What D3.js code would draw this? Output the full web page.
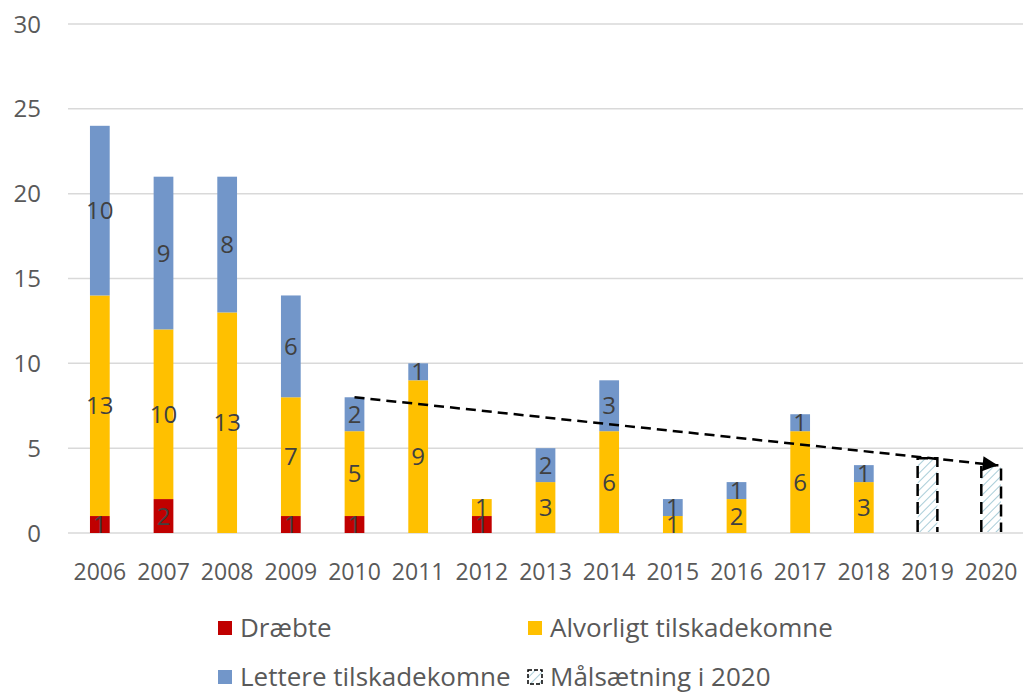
<!DOCTYPE html>
<html>
<head>
<meta charset="utf-8">
<script src="https://cdn.jsdelivr.net/npm/d3@7"></script>
<style>
  body { margin: 0; background: #fff; }
  text { font-family: "Open Sans", "Noto Sans", sans-serif; }
</style>
</head>
<body>
<div id="chart"></div>
<script>
// values
const years = ["2006", "2007", "2008", "2009", "2010", "2011", "2012", "2013", "2014", "2015", "2016", "2017", "2018", "2019", "2020"];
const draebte   = [1, 2, 0, 1, 1, 0, 1, 0, 0, 0, 0, 0, 0, 0, 0];
const alvorligt = [13, 10, 13, 7, 5, 9, 1, 3, 6, 1, 2, 6, 3, 0, 0];
const lettere   = [10, 9, 8, 6, 2, 1, 0, 2, 3, 1, 1, 1, 1, 0, 0];
const maal      = [0, 0, 0, 0, 0, 0, 0, 0, 0, 0, 0, 0, 0, 4.4, 4];
const trend = [{year: "2010", value: 8}, {year: "2020", value: 4}];
const yTicks = [0, 5, 10, 15, 20, 25, 30];

const seriesKeys = ["draebte", "alvorligt", "lettere"];
const seriesNames = {draebte: "Dræbte", alvorligt: "Alvorligt tilskadekomne", lettere: "Lettere tilskadekomne"};
const colors = {draebte: "#c00000", alvorligt: "#ffc000", lettere: "#7296c9"};

const W = 1024, H = 693;
const M = {left: 68, right: 1, top: 24};
const zeroY = 533;

const rows = years.map((y, i) => ({
  year: y, draebte: draebte[i], alvorligt: alvorligt[i], lettere: lettere[i], maal: maal[i]
}));

const svg = d3.select("#chart").append("svg")
  .attr("width", W)
  .attr("height", H);

// hatch pattern for the target bars
const defs = svg.append("defs");
const pat = defs.append("pattern")
  .attr("id", "hatch")
  .attr("width", 6)
  .attr("height", 6)
  .attr("patternUnits", "userSpaceOnUse")
  .attr("patternTransform", "rotate(45)");
pat.append("rect").attr("width", 6).attr("height", 6).attr("fill", "#fff");
pat.append("line")
  .attr("x1", 0).attr("y1", 0).attr("x2", 0).attr("y2", 6)
  .attr("stroke", "#a9cdd8")
  .attr("stroke-width", 2);

defs.append("marker")
  .attr("id", "arrow")
  .attr("viewBox", "0 0 10 10")
  .attr("refX", 9)
  .attr("refY", 5)
  .attr("markerWidth", 7.5)
  .attr("markerHeight", 6)
  .attr("markerUnits", "strokeWidth")
  .attr("orient", "auto")
  .append("path")
  .attr("d", "M0,0 L10,5 L0,10 Z")
  .attr("fill", "#000");

const x = d3.scaleBand()
  .domain(years)
  .range([M.left, W - M.right])
  .paddingInner(0.69)
  .paddingOuter(0.345);

const y = d3.scaleLinear()
  .domain([0, 30])
  .range([zeroY, M.top]);

// gridlines (behind the bars)
svg.append("g")
  .selectAll("line")
  .data(yTicks)
  .join("line")
  .attr("x1", M.left)
  .attr("x2", W - M.right)
  .attr("y1", d => y(d))
  .attr("y2", d => y(d))
  .attr("stroke", "#d9d9d9")
  .attr("stroke-width", 1.5);

// target bars: hatched fill, then a 3-sided dashed outline
const targets = rows.filter(d => d.maal > 0);
svg.append("g")
  .selectAll("rect")
  .data(targets)
  .join("rect")
  .attr("x", d => x(d.year))
  .attr("width", x.bandwidth())
  .attr("y", d => y(d.maal))
  .attr("height", d => y(0) - y(d.maal) - 1)
  .attr("fill", "url(#hatch)");

svg.append("g")
  .selectAll("path")
  .data(targets)
  .join("path")
  .attr("d", d => {
    const x0 = x(d.year), x1 = x0 + x.bandwidth();
    return `M${x0},${y(0) - 1}V${y(d.maal)}H${x1}V${y(0) - 1}`;
  })
  .attr("fill", "none")
  .attr("stroke", "#000")
  .attr("stroke-width", 2.5)
  .attr("stroke-dasharray", "12 6");

// stacked bars
const stack = d3.stack().keys(seriesKeys)(rows);

svg.append("g")
  .selectAll("g")
  .data(stack)
  .join("g")
  .attr("fill", d => colors[d.key])
  .selectAll("rect")
  .data(d => d.filter(s => s[1] > s[0]))
  .join("rect")
  .attr("x", d => x(d.data.year))
  .attr("width", x.bandwidth())
  .attr("y", d => y(d[1]))
  .attr("height", d => y(d[0]) - y(d[1]));

// y tick labels
svg.append("g")
  .selectAll("text")
  .data(yTicks)
  .join("text")
  .attr("x", 41)
  .attr("y", d => y(d))
  .attr("dy", "0.36em")
  .attr("text-anchor", "end")
  .attr("font-size", 24)
  .attr("fill", "#595959")
  .text(d => d);

// value labels
const labelData = [];
stack.forEach(layer => {
  layer.forEach(s => {
    if (s[1] > s[0]) labelData.push({year: s.data.year, mid: (s[0] + s[1]) / 2, v: s[1] - s[0]});
  });
});
svg.append("g")
  .selectAll("text")
  .data(labelData)
  .join("text")
  .attr("x", d => x(d.year) + x.bandwidth() / 2)
  .attr("y", d => y(d.mid))
  .attr("dy", "0.36em")
  .attr("text-anchor", "middle")
  .attr("font-size", 24)
  .attr("fill", "#404040")
  .text(d => d.v);

// trend arrow
svg.append("line")
  .attr("x1", x(trend[0].year) + x.bandwidth() / 2)
  .attr("y1", y(trend[0].value))
  .attr("x2", x(trend[1].year) + x.bandwidth() / 2 + 5)
  .attr("y2", y(trend[1].value))
  .attr("stroke", "#000")
  .attr("stroke-width", 2.5)
  .attr("stroke-dasharray", "10 6")
  .attr("marker-end", "url(#arrow)");

// x tick labels
svg.append("g")
  .selectAll("text")
  .data(years)
  .join("text")
  .attr("x", d => x(d) + x.bandwidth() / 2)
  .attr("y", 580)
  .attr("text-anchor", "middle")
  .attr("font-size", 23)
  .attr("fill", "#595959")
  .text(d => d);

// legend
const legendItems = [
  {key: "draebte", x: 218, y: 628},
  {key: "alvorligt", x: 528, y: 628},
  {key: "lettere", x: 218, y: 677},
  {key: "maal", x: 528, y: 677}
];
const lg = svg.append("g")
  .selectAll("g")
  .data(legendItems)
  .join("g")
  .attr("transform", d => `translate(${d.x},${d.y})`);

lg.append("rect")
  .attr("x", 0)
  .attr("y", -7)
  .attr("width", 14)
  .attr("height", 14)
  .attr("fill", d => d.key === "maal" ? "url(#hatch)" : colors[d.key])
  .attr("stroke", d => d.key === "maal" ? "#000" : "none")
  .attr("stroke-width", 1.5)
  .attr("stroke-dasharray", d => d.key === "maal" ? "4 2" : null);

lg.append("text")
  .attr("x", 22)
  .attr("y", 0)
  .attr("dy", "0.36em")
  .attr("font-size", 26)
  .attr("fill", "#595959")
  .text(d => d.key === "maal" ? "Målsætning i 2020" : seriesNames[d.key]);
</script>
</body>
</html>
